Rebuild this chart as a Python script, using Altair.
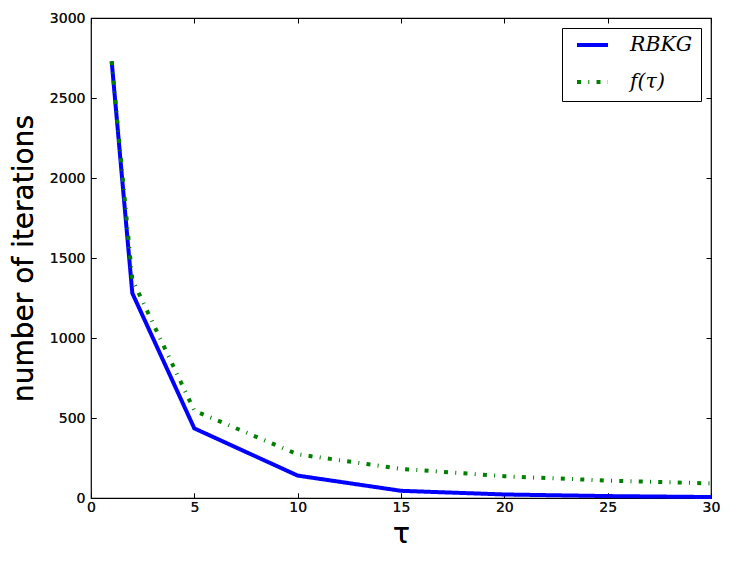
import altair as alt
import pandas as pd

tau = [1, 2, 5, 10, 15, 20, 25, 30]
rbkg = [2730, 1280, 435, 140, 45, 22, 12, 6]
f_tau = [2730, 1365, 546, 273, 182, 136, 109, 91]
series_names = ["RBKG", "f(τ)"]
x_ticks = [0, 5, 10, 15, 20, 25, 30]
y_ticks = [0, 500, 1000, 1500, 2000, 2500, 3000]

df = pd.DataFrame(
    {"tau": tau * 2,
     "value": rbkg + f_tau,
     "series": [series_names[0]] * len(tau) + [series_names[1]] * len(tau)}
)

xscale = alt.Scale(domain=[0, 30], nice=False, zero=False)
yscale = alt.Scale(domain=[0, 3000], nice=False, zero=False)
color = alt.Color(
    "series:N",
    scale=alt.Scale(domain=series_names, range=["#0000ff", "#008000"]),
    legend=alt.Legend(
        title=None, orient="top-right", offset=10,
        symbolType="stroke", symbolSize=961, symbolStrokeWidth=4,
        labelFont="DejaVu Serif", labelFontStyle="italic", labelFontSize=20.5,
        labelColor="black", labelOffset=20, rowPadding=16, clipHeight=18,
        padding=8, strokeColor="black", fillColor="white", cornerRadius=0,
        symbolOffset=5,
    ),
)
dash = alt.StrokeDash(
    "series:N",
    scale=alt.Scale(domain=series_names, range=[[1, 0], [4, 7.25, 1, 7.25]]),
    legend=None,
)

x_main = alt.X(
    "tau:Q", scale=xscale, title="τ",
    axis=alt.Axis(orient="bottom", values=x_ticks, format="d", offset=-5, tickSize=5,
                  tickColor="black", labelPadding=2, domain=False, grid=False,
                  labelFont="DejaVu Sans", labelFontSize=14, labelColor="#111111",
                  labelFontWeight="normal",
                  titleFont="DejaVu Sans", titleFontSize=28, titleFontWeight="normal",
                  titleColor="black", titlePadding=6, labelFlush=False),
)
y_main = alt.Y(
    "value:Q", scale=yscale, title="number of iterations",
    axis=alt.Axis(orient="left", values=y_ticks, format="d", offset=-5, tickSize=5,
                  tickColor="black", labelPadding=6, domain=False, grid=False,
                  labelFont="DejaVu Sans", labelFontSize=14, labelColor="#111111",
                  labelFontWeight="normal",
                  titleFont="DejaVu Sans", titleFontSize=28, titleFontWeight="normal",
                  titleColor="black", titlePadding=11, labelFlush=False),
)

base = alt.Chart(df)

blue = base.transform_filter(alt.datum.series == series_names[0]).mark_line(
    strokeWidth=4, strokeCap="butt", strokeJoin="miter"
).encode(x=x_main, y=y_main, color=color, strokeDash=dash)

green = base.transform_filter(alt.datum.series == series_names[1]).mark_line(
    strokeWidth=4, strokeCap="butt"
).encode(x=x_main, y=y_main, color=color, strokeDash=dash)

ticks_layer = base.mark_point(opacity=0).encode(
    x=alt.X("tau:Q", scale=xscale, title=None,
            axis=alt.Axis(orient="top", values=x_ticks, offset=-5, tickSize=5,
                          tickColor="black", labels=False, domain=False, grid=False)),
    y=alt.Y("value:Q", scale=yscale, title=None,
            axis=alt.Axis(orient="right", values=y_ticks, offset=-5, tickSize=5,
                          tickColor="black", labels=False, domain=False, grid=False)),
)

chart = alt.layer(blue, green, ticks_layer).resolve_scale(
    x="independent", y="independent", color="shared", strokeDash="shared"
).resolve_axis(x="independent", y="independent").properties(
    width=620, height=480,
    background="white",
    autosize=alt.AutoSizeParams(type="none"),
    padding={"left": 83, "top": 10, "right": 11, "bottom": 57},
).configure_view(stroke="black", strokeWidth=1.2)

chart.save("out.html", embed_options={"renderer": "svg", "actions": False})
